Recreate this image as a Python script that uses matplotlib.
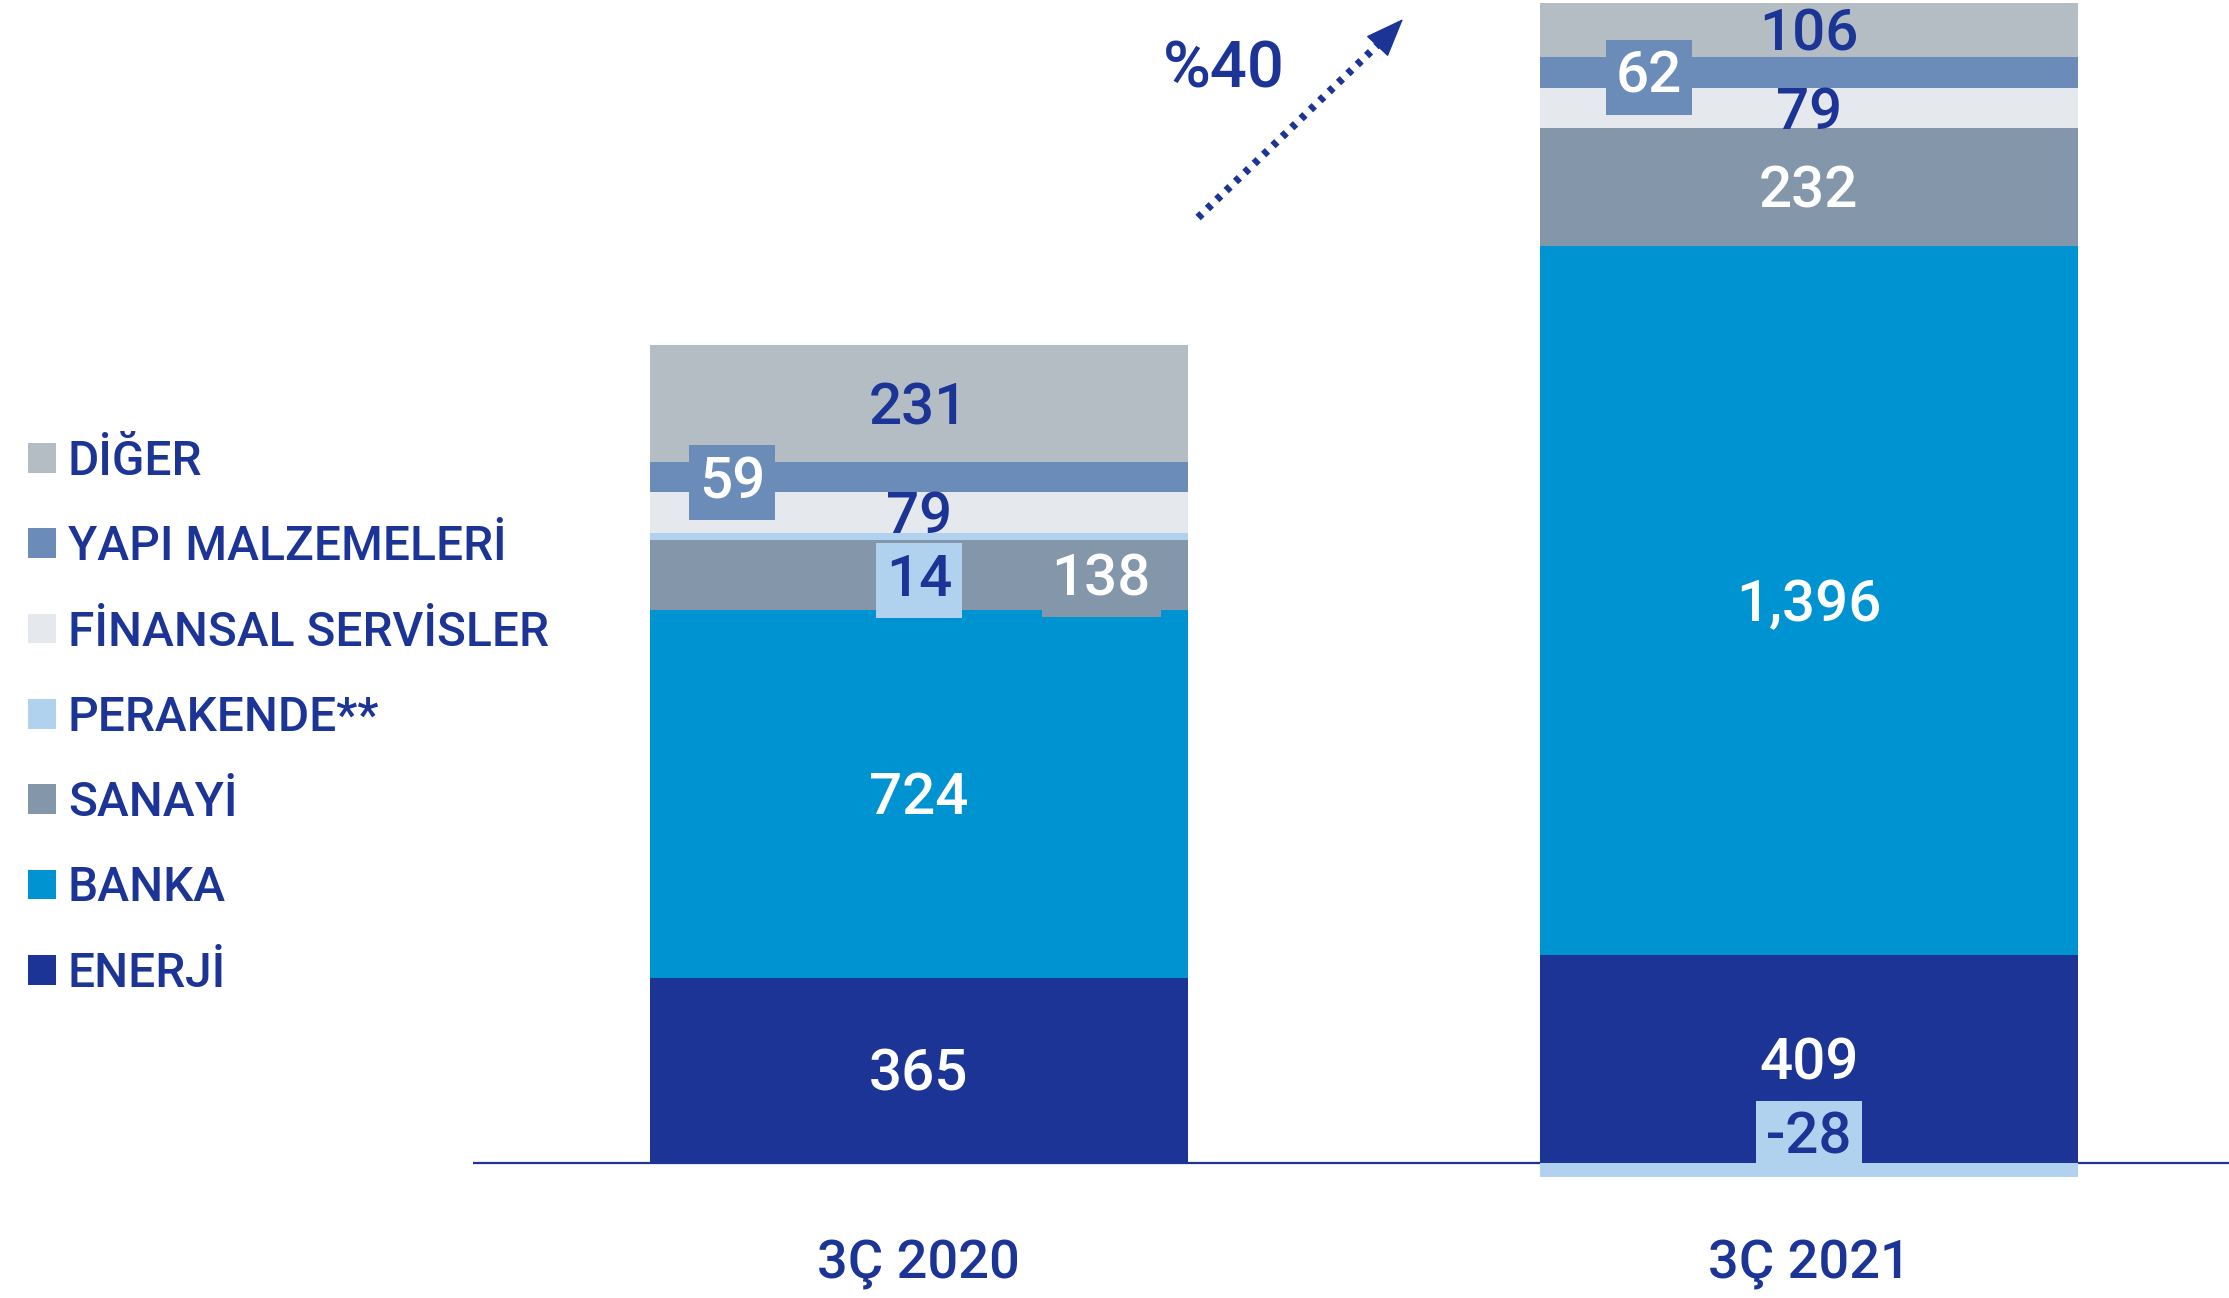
import matplotlib
matplotlib.use('Agg')
import matplotlib.pyplot as plt
from matplotlib.patches import Patch

plt.rcParams['font.family'] = ['Roboto', 'DejaVu Sans']

# segment order, bottom to top
sectors = ['ENERJİ', 'BANKA', 'SANAYİ', 'PERAKENDE**', 'FİNANSAL SERVİSLER', 'YAPI MALZEMELERİ', 'DİĞER']
colors = ['#1B3496', '#0093D2', '#8496AA', '#B0D2EE', '#E5E8ED', '#6B8CB8', '#B4BCC4']
periods = ['3Ç 2020', '3Ç 2021']
values = {
    '3Ç 2020': [365, 724, 138, 14, 79, 59, 231],
    '3Ç 2021': [409, 1396, 232, -28, 79, 62, 106],
}
growth_label = '%40'

dark = '#1B3496'
text_colors = ['white', 'white', 'white', dark, dark, 'white', dark]
# (x offset, y offset, boxed) for each label
label_pos = {
    '3Ç 2020': [(0, 0, False), (0, 0, False), (0.205, 0, True), (0, -78, True),
                (0, 0, False), (-0.21, 0, True), (0, 0, False)],
    '3Ç 2021': [(0, 0, False), (0, 0, False), (0, 0, False), (0, 73, True),
                (0, 0, False), (-0.18, 0, True), (0, 0, False)],
}

W, H = 2229, 1298
fig = plt.figure(figsize=(W / 100, H / 100), dpi=100)
ax = fig.add_axes([473 / W, 0, 1 - 473 / W, 1])
ax.set_xlim(-0.501, 1.472)
ax.set_ylim(-265.7, 2289.4)
ax.axis('off')
ax.axhline(0, color=dark, lw=1.6, zorder=1)

bar_w = 0.6045
for i, p in enumerate(periods):
    pos_base = 0
    neg_base = 0
    for j, v in enumerate(values[p]):
        if v >= 0:
            bottom = pos_base
            pos_base += v
        else:
            bottom = neg_base
            neg_base += v
        ax.bar(i, v, bottom=bottom, width=bar_w, color=colors[j], zorder=2)
        dx, dy, boxed = label_pos[p][j]
        bbox = None
        if boxed:
            bbox = dict(boxstyle='square,pad=0.17', facecolor=colors[j], edgecolor='none')
        ax.text(i + dx, bottom + v / 2 + dy - 10, f'{v:,}', ha='center', va='center',
                color=text_colors[j], fontsize=42, fontweight='medium', bbox=bbox, zorder=4)
    ax.text(i, -199, p, ha='center', va='center', color=dark, fontsize=39,
            fontweight='medium')

# growth arrow
fig.lines.append(plt.Line2D([0.5375, 0.6245], [0.8324, 0.976], transform=fig.transFigure,
                            color=dark, lw=5.5, linestyle=(0, (0.7, 1.0))))
ax.annotate('', xy=(0.6303, 0.9869), xytext=(0.621, 0.970), xycoords='figure fraction',
            textcoords='figure fraction',
            arrowprops=dict(arrowstyle='-|>,head_length=0.9,head_width=0.35',
                            color=dark, lw=1, mutation_scale=28))
fig.text(1224 / W, 1 - 70 / H, growth_label, ha='center', va='center', color=dark,
         fontsize=47, fontweight='medium')

handles = [Patch(facecolor=c, edgecolor='none') for c in colors][::-1]
fig.legend(handles, sectors[::-1], loc='center left', bbox_to_anchor=(28 / W, 0.447),
           frameon=False, handlelength=0.58, handleheight=0.58,
           handletextpad=0.25, labelspacing=0.82, borderaxespad=0, borderpad=0,
           labelcolor=dark, prop={'size': 34.5, 'weight': 'medium'})

fig.savefig('out.png', dpi=100)
